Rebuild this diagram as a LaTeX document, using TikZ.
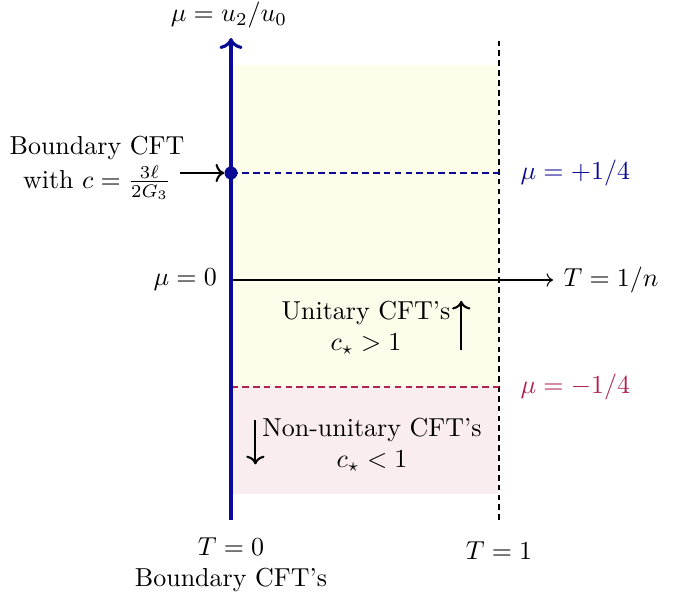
\documentclass[tikz,border=0pt]{standalone}
\usepackage{amsmath,amssymb}
\usepackage{tikz}
\usetikzlibrary{arrows.meta,positioning}
\definecolor{navy}{HTML}{0A0A96}
\definecolor{crimson}{HTML}{B02250}
\definecolor{softyellow}{HTML}{FDFDEC}
\definecolor{softpink}{HTML}{FAEDEF}
\begin{document}
\begin{tikzpicture}[x=0.01353cm,y=-0.01353cm,>=To,lbl/.style={inner sep=1pt,align=center},ax/.style={navy,line width=1.2pt},mu/.style={dash pattern=on 2.6pt off 1.6pt,line width=1.1pt}]
\useasboundingbox (0,0) rectangle (678,599);
% shaded regions
\fill[softyellow] (231,65) rectangle (498,387);
\fill[softpink] (231,387) rectangle (498,494);
% axes
\coordinate (b0) at (231,520);
\coordinate (t0) at (231,38);
\coordinate (b1) at (499,520);
\coordinate (t1) at (499,38);
\coordinate (o) at (231,280);
\coordinate (e) at (553,280);
\draw[dash pattern=on 2.2pt off 1.6pt,thin] (b1)--(t1);
\draw[->] (o)--(e);
\coordinate (p) at (231,173);
\coordinate (p1) at (499,173);
\coordinate (m) at (231,387);
\coordinate (m1) at (499,387);
\draw[mu,navy] (p)--(p1);
\draw[mu,crimson] (m)--(m1);
\draw[ax,->] (b0)--(t0);
\fill[navy] (p) circle (2.5pt);
% labels
\node[lbl] (ylab) at (229,15) {$\mu=u_2/u_0$};
\node[lbl,right=1mm of e] (xlab) {$T=1/n$};
\node[lbl,left=1.5mm of o] (zlab) {$\mu=0$};
\node[lbl,right=2.5mm of p1,navy] (plab) {$\mu=+1/4$};
\node[lbl,right=2.5mm of m1,crimson] (mlab) {$\mu=-1/4$};
\node[lbl] (tzero) at (231,565) {$T=0$\\Boundary CFT's};
\node[lbl] (tone) at (499,551) {$T=1$};
\node[lbl] (bcft) at (97,168) {Boundary CFT\\[1pt]with $c=\frac{3\ell}{2G_3}$};
\draw[->,thick] (180,173)--([xshift=-2.6pt]p);
\node[lbl] (unit) at (366,328) {Unitary CFT's\\$c_\star>1$};
\node[lbl] (nonunit) at (372,445) {Non-unitary CFT's\\$c_\star<1$};
\draw[->,thick] ([xshift=3pt,yshift=3pt]unit.south east)--([xshift=3pt,yshift=-1pt]unit.north east);
\draw[->,thick] ([xshift=-1.5pt,yshift=-2pt]nonunit.north west)--([xshift=-1.5pt,yshift=4pt]nonunit.south west);
\end{tikzpicture}
\end{document}
